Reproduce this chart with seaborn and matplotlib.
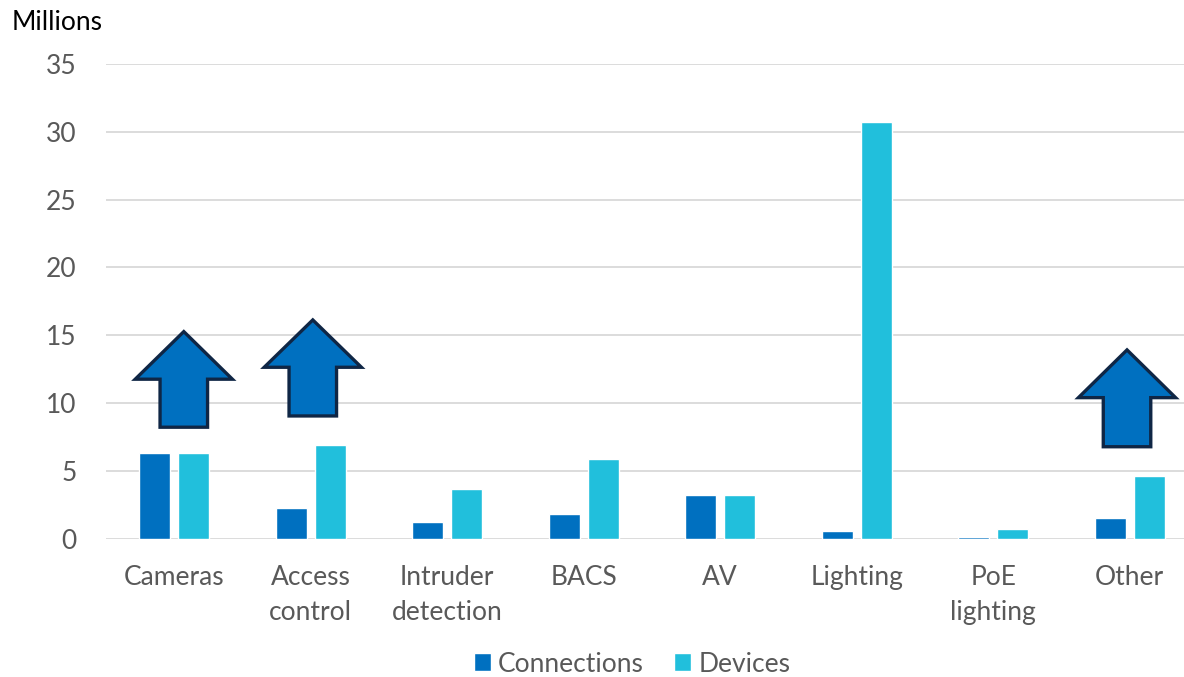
import pandas as pd
import matplotlib.pyplot as plt
import seaborn as sns
from matplotlib.patches import Polygon

# values (millions)
categories = ['Cameras', 'Access\ncontrol', 'Intruder\ndetection', 'BACS', 'AV',
              'Lighting', 'PoE\nlighting', 'Other']
connections = [6.34, 2.29, 1.25, 1.85, 3.24, 0.59, 0.12, 1.52]
devices = [6.34, 6.90, 3.68, 5.90, 3.24, 30.7, 0.74, 4.62]

# up arrows drawn over three categories: (category index, bottom, head base, tip)
arrow_cats = [0, 1, 7]
arrow_bottom = [8.22, 9.05, 6.78]
arrow_neck = [11.76, 12.64, 10.40]
arrow_tip = [15.27, 16.13, 13.92]

df = pd.DataFrame({
    'category': categories * 2,
    'value': connections + devices,
    'series': ['Connections'] * len(categories) + ['Devices'] * len(categories),
})

sns.set_theme(style="white")
plt.rcParams['font.family'] = ['Lato', 'DejaVu Sans']

fig = plt.figure(figsize=(11.84, 6.77), dpi=100)
ax = fig.add_axes([106 / 1184, 1 - 538.7 / 677, (1198 - 106) / 1184, (538.7 - 64) / 677])

sns.barplot(data=df, x='category', y='value', hue='series',
            palette={'Connections': '#0070C0', 'Devices': '#21BFDC'},
            width=0.571, gap=0.205, saturation=1, ax=ax, legend=True)

ax.set_ylim(0, 35)
ax.set_xlim(-0.5, len(categories) - 0.5)
ax.set_yticks(range(0, 36, 5))
ax.yaxis.grid(True, color='#D9D9D9', linewidth=1.3)
ax.set_axisbelow(True)
for s in ax.spines.values():
    s.set_visible(False)
ax.set_xlabel('')
ax.set_ylabel('')
ax.tick_params(axis='y', length=0, pad=21, labelsize=19, labelcolor='#595959')
ax.tick_params(axis='x', length=0, pad=19, labelsize=19, labelcolor='#595959')
for lbl in ax.get_xticklabels():
    lbl.set_linespacing(1.5)
    lbl.set_verticalalignment('top')

# block arrows
head_hw, shaft_hw = 0.356, 0.174
offsets = {0: 0.07, 1: 0.015, 7: -0.02}
for c, b, n, t in zip(arrow_cats, arrow_bottom, arrow_neck, arrow_tip):
    x = c + offsets[c]
    pts = [(x - shaft_hw, b), (x + shaft_hw, b), (x + shaft_hw, n), (x + head_hw, n),
           (x, t), (x - head_hw, n), (x - shaft_hw, n)]
    ax.add_patch(Polygon(pts, closed=True, facecolor='#0070C0', edgecolor='#0F2645',
                         linewidth=2.4, joinstyle='miter', zorder=5))

# legend at the bottom
handles, labels = ax.get_legend_handles_labels()
ax.legend_.remove()
fig.legend(handles, labels, loc='center', bbox_to_anchor=(632 / 1184, 1 - 664 / 677),
           ncol=2, frameon=False, fontsize=19, labelcolor='#595959',
           handlelength=0.65, handleheight=0.65, handletextpad=0.27, columnspacing=1.15)

fig.text(12 / 1184, 1 - 22 / 677, 'Millions', fontsize=19, color='black', va='center', ha='left')

fig.savefig('out.png', dpi=100)
